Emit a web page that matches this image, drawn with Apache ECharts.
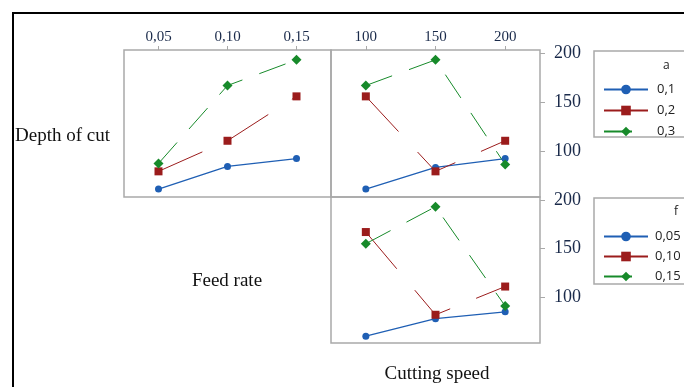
<!DOCTYPE html>
<html lang="en">
<head>
  <meta charset="UTF-8">
  <title>Interaction plot</title>
  <script src="https://cdn.jsdelivr.net/npm/echarts@6/dist/echarts.min.js"></script>
  <style>
    html, body { margin: 0; padding: 0; background: #fff; }
  </style>
</head>
<body>
  <div id="main" style="width: 684px;height:387px"></div>
  <script>
    var myChart = echarts.init(document.getElementById('main'));

    // x levels
    var feedRates = [0.05, 0.10, 0.15];
    var speeds = [100, 150, 200];
    var yTicks = [100, 150, 200];

    // depth of cut (a) vs feed rate
    var aFeed01 = [62, 85, 93];
    var aFeed02 = [80, 111, 156];
    var aFeed03 = [88, 167, 193];
    // depth of cut (a) vs cutting speed
    var aSpeed01 = [62, 84, 93];
    var aSpeed02 = [156, 80, 111];
    var aSpeed03 = [167, 193, 87];
    // feed rate (f) vs cutting speed
    var fSpeed005 = [60, 78, 85];
    var fSpeed010 = [167, 82, 111];
    var fSpeed015 = [155, 193, 91];

    var aNames = ['0,1', '0,2', '0,3'];
    var fNames = ['0,05', '0,10', '0,15'];

    var BLUE = '#1f5fb4', RED = '#9b1c1c', GREEN = '#178a2a';
    var styles = [
      { color: BLUE, symbol: 'circle', size: 7, dash: 'solid', w: 1.3 },
      { color: RED, symbol: 'rect', size: 8, dash: [48, 28], w: 1 },
      { color: GREEN, symbol: 'diamond', size: 10, dash: [28, 18], w: 1 }
    ];

    function pairs(xs, ys) {
      return xs.map(function (x, i) { return [x, ys[i]]; });
    }
    function mk(name, idx, xs, ys, k) {
      var s = styles[k];
      return {
        type: 'line', name: name, xAxisIndex: idx, yAxisIndex: idx,
        data: pairs(xs, ys),
        symbol: s.symbol, symbolSize: s.size,
        itemStyle: { color: s.color },
        lineStyle: { color: s.color, width: s.w, type: s.dash },
        animation: false
      };
    }

    var serif = 'Liberation Serif';
    var sans = 'Open Sans';
    var labelFont = '19px "Liberation Serif"';

    var option = {
      grid: [
        { left: 124, top: 50, width: 207, height: 147, show: true, borderColor: '#a9a9a9', borderWidth: 1.5 },
        { left: 331, top: 50, width: 209, height: 147, show: true, borderColor: '#a9a9a9', borderWidth: 1.5 },
        { left: 331, top: 197, width: 209, height: 146, show: true, borderColor: '#a9a9a9', borderWidth: 1.5 }
      ],
      xAxis: [
        {
          type: 'value', gridIndex: 0, position: 'top', min: 0.025, max: 0.175,
          splitLine: { show: false }, axisLine: { show: false },
          axisTick: { show: true, customValues: feedRates, length: 4, lineStyle: { color: '#a9a9a9' } },
          axisLabel: {
            customValues: feedRates, color: '#1a2a4a', fontFamily: serif, fontSize: 15, margin: 5,
            formatter: function (v) { return v.toFixed(2).replace('.', ','); }
          }
        },
        {
          type: 'value', gridIndex: 1, position: 'top', min: 75, max: 225,
          splitLine: { show: false }, axisLine: { show: false },
          axisTick: { show: true, customValues: speeds, length: 4, lineStyle: { color: '#a9a9a9' } },
          axisLabel: { customValues: speeds, color: '#1a2a4a', fontFamily: serif, fontSize: 15, margin: 5 }
        },
        {
          type: 'value', gridIndex: 2, min: 75, max: 225,
          splitLine: { show: false }, axisLine: { show: false },
          axisTick: { show: false }, axisLabel: { show: false }
        }
      ],
      yAxis: [
        {
          type: 'value', gridIndex: 0, min: 54, max: 203,
          splitLine: { show: false }, axisLine: { show: false },
          axisTick: { show: false }, axisLabel: { show: false }
        },
        {
          type: 'value', gridIndex: 1, position: 'right', min: 54, max: 203,
          splitLine: { show: false }, axisLine: { show: false },
          axisTick: { show: true, customValues: yTicks, length: 5, lineStyle: { color: '#a9a9a9' } },
          axisLabel: { customValues: yTicks, color: '#1a2a4a', fontFamily: serif, fontSize: 18, margin: 14 }
        },
        {
          type: 'value', gridIndex: 2, position: 'right', min: 53, max: 203,
          splitLine: { show: false }, axisLine: { show: false },
          axisTick: { show: true, customValues: yTicks, length: 5, lineStyle: { color: '#a9a9a9' } },
          axisLabel: { customValues: yTicks, color: '#1a2a4a', fontFamily: serif, fontSize: 18, margin: 14 }
        }
      ],
      legend: [
        {
          data: aNames, orient: 'vertical', left: 598, top: 78,
          itemWidth: 44, itemHeight: 12, itemGap: 8,
          selectedMode: false,
          textStyle: { fontFamily: sans, fontSize: 13, color: '#222', padding: [0, 0, 0, 4] }
        },
        {
          data: fNames, orient: 'vertical', left: 598, top: 225,
          itemWidth: 44, itemHeight: 12, itemGap: 7,
          selectedMode: false,
          textStyle: { fontFamily: sans, fontSize: 13, color: '#222', padding: [0, 0, 0, 2] }
        }
      ],
      graphic: [
        // outer frame
        { type: 'line', shape: { x1: 12, y1: 13, x2: 684, y2: 13 }, style: { stroke: '#000', lineWidth: 2 } },
        { type: 'line', shape: { x1: 13, y1: 12, x2: 13, y2: 387 }, style: { stroke: '#000', lineWidth: 2 } },
        // legend boxes
        { type: 'rect', shape: { x: 594, y: 51, width: 100, height: 86 }, style: { fill: 'none', stroke: '#a9a9a9', lineWidth: 1.5 } },
        { type: 'rect', shape: { x: 594, y: 198, width: 100, height: 86 }, style: { fill: 'none', stroke: '#a9a9a9', lineWidth: 1.5 } },
        { type: 'text', left: 663, top: 60, style: { text: 'a', font: '12px "Open Sans"', fill: '#222' } },
        { type: 'text', left: 674, top: 206, style: { text: 'f', font: '12px "Open Sans"', fill: '#222' } },
        // factor labels
        { type: 'text', x: 15, y: 136, style: { text: 'Depth of cut', font: labelFont, fill: '#111', textVerticalAlign: 'middle' } },
        { type: 'text', x: 227, y: 281, style: { text: 'Feed rate', font: labelFont, fill: '#111', textAlign: 'center', textVerticalAlign: 'middle' } },
        { type: 'text', x: 437, y: 374, style: { text: 'Cutting speed', font: labelFont, fill: '#111', textAlign: 'center', textVerticalAlign: 'middle' } }
      ],
      series: [
        mk(aNames[0], 0, feedRates, aFeed01, 0),
        mk(aNames[1], 0, feedRates, aFeed02, 1),
        mk(aNames[2], 0, feedRates, aFeed03, 2),
        mk(aNames[0], 1, speeds, aSpeed01, 0),
        mk(aNames[1], 1, speeds, aSpeed02, 1),
        mk(aNames[2], 1, speeds, aSpeed03, 2),
        mk(fNames[0], 2, speeds, fSpeed005, 0),
        mk(fNames[1], 2, speeds, fSpeed010, 1),
        mk(fNames[2], 2, speeds, fSpeed015, 2)
      ]
    };
    myChart.setOption(option);
  </script>
</body>
</html>
